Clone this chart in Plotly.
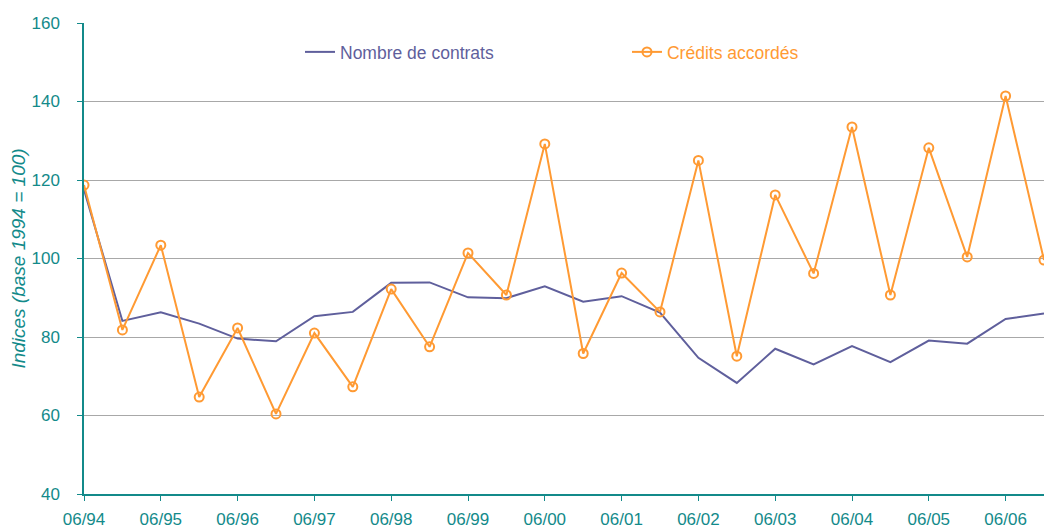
import plotly.graph_objects as go

periods = ["06/94", "12/94", "06/95", "12/95", "06/96", "12/96", "06/97", "12/97",
           "06/98", "12/98", "06/99", "12/99", "06/00", "12/00", "06/01", "12/01",
           "06/02", "12/02", "06/03", "12/03", "06/04", "12/04", "06/05", "12/05",
           "06/06", "12/06"]
tick_labels = [p for p in periods if p.startswith("06/")]

nombre_contrats = [117.5, 84.1, 86.3, 83.4, 79.6, 78.9, 85.3, 86.4, 93.8, 93.9,
                   90.1, 89.9, 92.9, 89.0, 90.4, 86.2, 74.7, 68.3, 77.0, 73.0,
                   77.7, 73.6, 79.1, 78.3, 84.6, 86.0]
credits_accordes = [118.7, 81.8, 103.4, 64.7, 82.3, 60.4, 81.0, 67.3, 92.2, 77.5,
                    101.4, 90.7, 129.2, 75.8, 96.3, 86.4, 125.0, 75.1, 116.2, 96.2,
                    133.5, 90.7, 128.2, 100.4, 141.4, 99.6]

TEAL = "#138a8a"
PURPLE = "#5f5f9c"
ORANGE = "#ff9a33"
GRID = "#a8a8a8"
FONT = "Liberation Sans, Arial, sans-serif"

fig = go.Figure()
fig.add_trace(go.Scatter(
    x=periods, y=nombre_contrats, mode="lines", name="Nombre de contrats",
    line=dict(color=PURPLE, width=2), legend="legend"))
fig.add_trace(go.Scatter(
    x=periods, y=credits_accordes, mode="lines+markers", name="Crédits accordés",
    line=dict(color=ORANGE, width=2),
    marker=dict(symbol="circle-open", size=9, color=ORANGE, line=dict(width=2, color=ORANGE)),
    legend="legend2"))

fig.update_layout(
    width=1044, height=529,
    margin=dict(l=84, r=0, t=23, b=35, autoexpand=False),
    paper_bgcolor="white", plot_bgcolor="white",
    font=dict(family=FONT, size=17, color=TEAL),
    showlegend=True,
    legend=dict(x=0.225, y=0.9384, xanchor="left", yanchor="middle",
                bgcolor="rgba(0,0,0,0)", font=dict(color=PURPLE, size=17.5, family=FONT)),
    legend2=dict(x=0.5656, y=0.9384, xanchor="left", yanchor="middle",
                 bgcolor="rgba(0,0,0,0)", font=dict(color=ORANGE, size=17.5, family=FONT)),
)
fig.update_xaxes(
    type="category", range=[0, 25],
    tickmode="array", tickvals=tick_labels, ticktext=tick_labels,
    ticks="outside", ticklen=5, tickcolor=TEAL, tickwidth=1,
    showline=True, linecolor=TEAL, linewidth=1.5,
    showgrid=False, zeroline=False,
    tickfont=dict(color=TEAL, size=17, family=FONT),
    ticklabelstandoff=4,
)
fig.update_yaxes(
    range=[40, 160], tickvals=[40, 60, 80, 100, 120, 140, 160],
    ticks="outside", ticklen=5, tickcolor=TEAL, tickwidth=1,
    showline=True, linecolor=TEAL, linewidth=1.5,
    showgrid=True, gridcolor=GRID, gridwidth=1, zeroline=False,
    tickfont=dict(color=TEAL, size=17, family=FONT),
    ticklabelstandoff=14,
    title=dict(text="<i>Indices (base 1994 = 100)</i>", standoff=1,
               font=dict(color=TEAL, size=19, family=FONT)),
)

fig.write_html("out.html", config={"displayModeBar": False},
               post_script="document.body.style.margin='0px';document.body.style.overflow='hidden';")
